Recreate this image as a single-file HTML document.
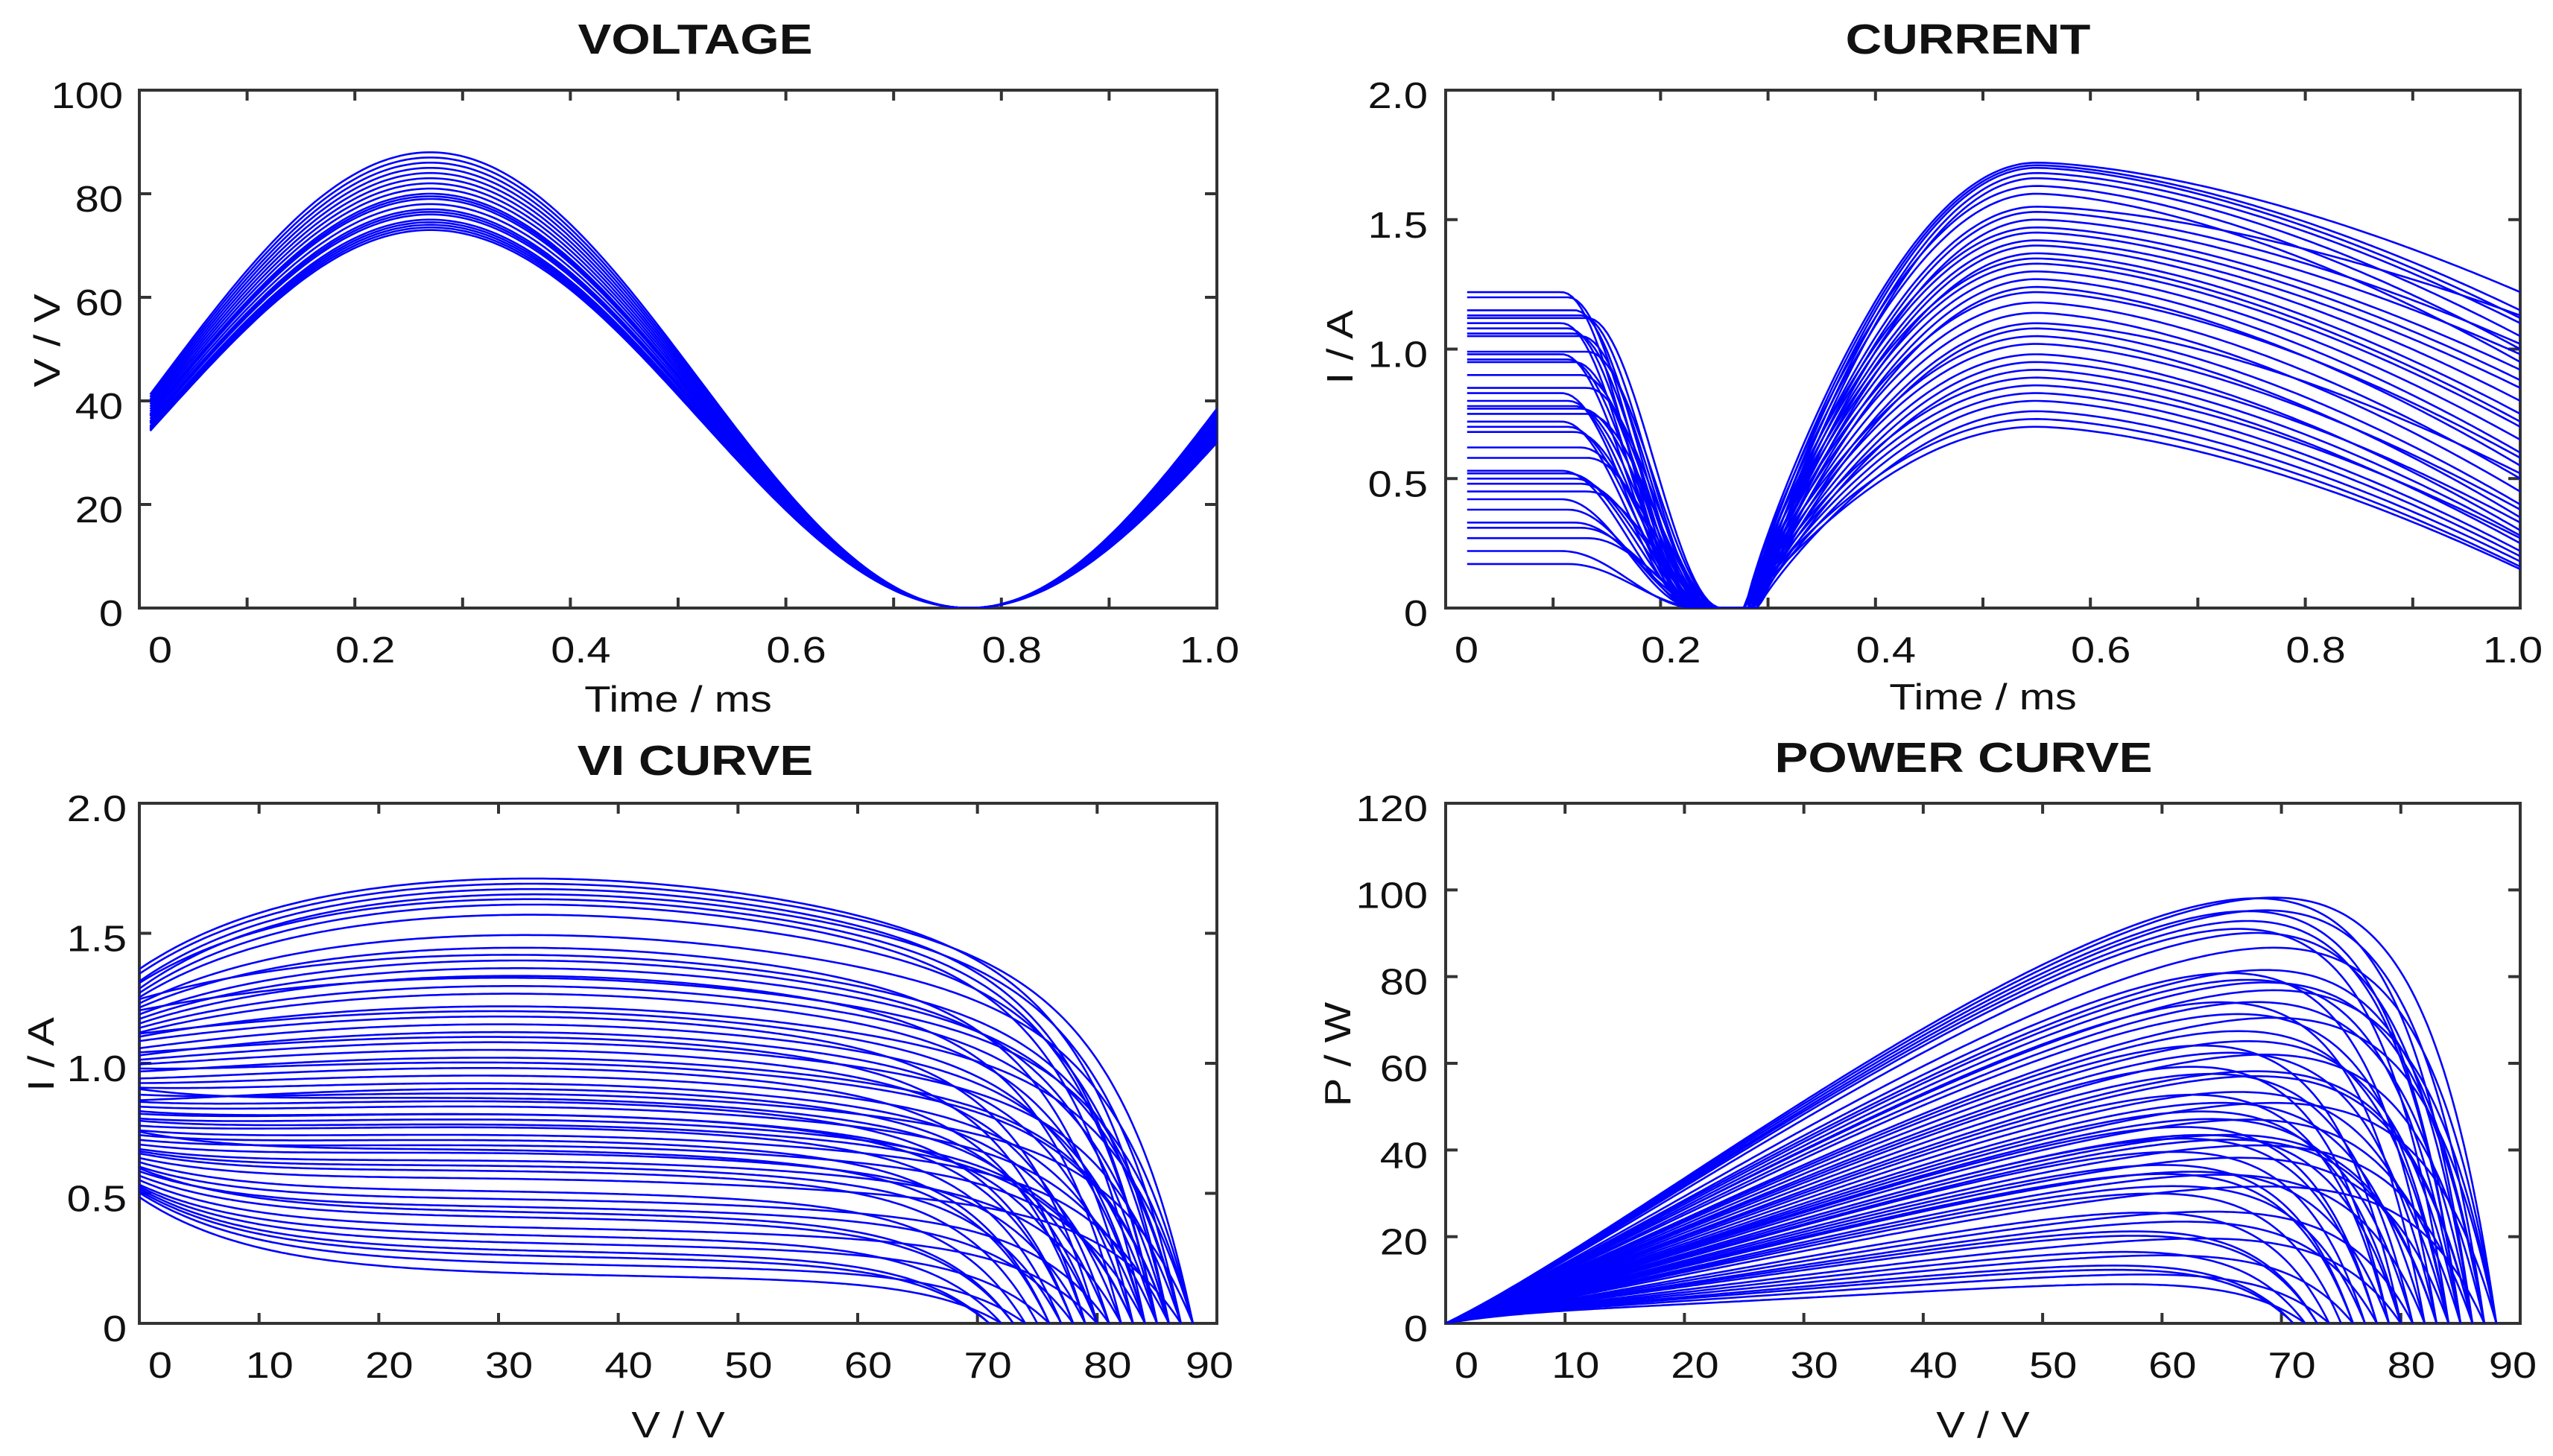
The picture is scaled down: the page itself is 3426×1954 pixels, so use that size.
<!DOCTYPE html>
<html><head><meta charset="utf-8"><style>
html,body{margin:0;padding:0;background:#fff;}
svg{display:block;}
</style></head><body>
<svg id="fig" width="3426" height="1954" viewBox="0 0 3426 1954" xmlns="http://www.w3.org/2000/svg"></svg>
<script>
// ---------- data ----------
const voltagePeaks = [88,87,86,85,84,83,82,81,80,79.5,79,78,77,76.5,76,75,74.5,74,73.5,73];
const curStart = [1.22,1.20,1.15,1.13,1.12,1.10,1.08,1.06,1.05,0.99,0.98,0.96,0.95,0.90,0.85,0.83,0.80,0.78,0.77,0.75,0.72,0.70,0.68,0.62,0.58,0.53,0.52,0.50,0.48,0.45,0.42,0.38,0.33,0.31,0.27,0.22,0.17];
const curPeak = [1.72,1.71,1.70,1.68,1.66,1.63,1.60,1.55,1.53,1.50,1.47,1.45,1.42,1.40,1.37,1.35,1.33,1.30,1.27,1.24,1.22,1.18,1.14,1.10,1.08,1.05,1.02,0.98,0.95,0.92,0.89,0.86,0.83,0.80,0.76,0.73,0.70];
const curEnd = [1.22,1.15,1.12,1.10,1.05,1.00,0.95,1.13,1.02,0.98,0.92,0.88,0.85,0.80,0.75,0.72,0.70,0.65,0.60,0.55,0.58,0.50,0.45,0.52,0.40,0.35,0.38,0.30,0.33,0.28,0.25,0.27,0.22,0.20,0.18,0.16,0.15];
const viStart = [1.50,1.48,1.45,1.42,1.40,1.38,1.35,1.33,1.30,1.28,1.26,1.24,1.22,1.20,1.18,1.15,1.12,1.10,1.08,1.05,1.02,1.00,0.98,0.95,0.92,0.90,0.88,0.85,0.82,0.80,0.78,0.76,0.74,0.72,0.70,0.68,0.66,0.64,0.62,0.60,0.58,0.56,0.55,0.54,0.52,0.50,1.36,1.21,1.06,0.93,0.84,0.71,1.44,1.13,0.97,0.79,0.63,0.53,1.31,0.87];
const viPlateau = [1.72,1.70,1.68,1.66,1.62,1.58,1.50,1.45,1.40,1.37,1.34,1.30,1.27,1.22,1.18,1.15,1.12,1.08,1.05,1.02,0.98,0.95,0.92,0.88,0.85,0.83,0.80,0.78,0.75,0.72,0.70,0.68,0.65,0.62,0.58,0.55,0.50,0.47,0.44,0.40,0.36,0.33,0.30,0.27,0.22,0.18,1.42,1.20,1.00,0.90,0.76,0.60,1.64,1.10,0.86,0.66,0.42,0.25,1.33,0.80];
const viVoc = [86,88,85,87,84,86,88,83,85,87,82,86,84,88,80,85,83,87,81,86,79,84,82,88,78,85,80,83,77,86,76,84,79,82,75,87,74,81,78,73,80,72,76,71,74,72,87,84,86,80,83,77,85,79,81,76,73,71,88,78];
const timeTicks = [0,0.2,0.4,0.6,0.8,1.0];
const timeTickLabels = ["0","0.2","0.4","0.6","0.8","1.0"];
const voltYTicks = [0,20,40,60,80,100];
const ampYTicks = [0,0.5,1.0,1.5,2.0];
const ampYLabels = ["0","0.5","1.0","1.5","2.0"];
const vTicks = [0,10,20,30,40,50,60,70,80,90];
const pTicks = [0,20,40,60,80,100,120];

// ---------- helpers ----------
const NS = "http://www.w3.org/2000/svg";
const svg = document.getElementById('fig');
const SX = 1.18;
function mk(tag, attrs, parent){ const e=document.createElementNS(NS,tag); for(const k in attrs) e.setAttribute(k,attrs[k]); (parent||svg).appendChild(e); return e; }
function txt(x,y,s,size,anchor,bold,rot,name,parent){
  const e = mk('text',{x:0,y:0,'font-family':'"Liberation Sans", Arial, sans-serif','font-size':size,'text-anchor':anchor,fill:'#111','font-weight':bold?'bold':'normal',transform:`translate(${x},${y}) ${rot?'rotate(-90) ':''}scale(${SX},1)`},parent);
  e.textContent = s;
  
  
  return e;
}
function axes(id, L,R,T,B, x0,x1,y0,y1, xt,xl,yt,yl, minorX, title,tx,ty, xlab,xly, ylab,ylx,yly, ylRight){
  const g = mk('g',{});
  
  
  const sx = v => L + (v-x0)/(x1-x0)*(R-L);
  const sy = v => B - (v-y0)/(y1-y0)*(B-T);
  const cp = mk('clipPath',{id:id+'-clip'},g); mk('rect',{x:L,y:T-4,width:R-L,height:B-T+4},cp);
  const frame = mk('rect',{x:L,y:T,width:R-L,height:B-T,fill:'none',stroke:'#333','stroke-width':4},g);
  
  
  minorX.forEach(v=>{
    const x=sx(v);
    const t1 = mk('line',{x1:x,y1:B,x2:x,y2:B-14,stroke:'#333','stroke-width':4},g);
    
    
    const t2 = mk('line',{x1:x,y1:T,x2:x,y2:T+14,stroke:'#333','stroke-width':4},g);
    
    
  });
  xt.forEach((v,i)=>{
    let x=sx(v); if(i===0) x+=28; else if(i===xt.length-1) x-=10; else x+=14;
    txt(x,B+73,xl[i],49,'middle',false,false,'x-tick-label',g);
  });
  yt.forEach((v,i)=>{
    const y=sy(v);
    const t1 = mk('line',{x1:L,y1:y,x2:L+16,y2:y,stroke:'#333','stroke-width':4},g);
    
    
    const t2 = mk('line',{x1:R,y1:y,x2:R-16,y2:y,stroke:'#333','stroke-width':4},g);
    
    
    txt(ylRight,y+24,yl[i],49,'end',false,false,'y-tick-label',g);
  });
  txt(tx,ty,title,57,'middle',true,false,'chart-title',g);
  txt((L+R)/2,xly,xlab,49,'middle',false,false,'x-axis-title',g);
  txt(ylx,yly,ylab,49,'middle',false,true,'y-axis-title',g);
  const plot = mk('g',{'clip-path':`url(#${id}-clip)`,fill:'none',stroke:'#0000ff','stroke-width':2.6,'stroke-linejoin':'round'},g);
  
  
  return {sx,sy,plot};
}
function poly(ax, pts, name){
  const d = pts.map(p=>ax.sx(p[0]).toFixed(1)+','+ax.sy(p[1]).toFixed(1)).join(' ');
  const e = mk('polyline',{points:d},ax.plot);
  
  
}
const range = (a,b,s)=>{const r=[];for(let v=a;v<=b+1e-9;v+=s)r.push(+v.toFixed(4));return r;};

// ---------- VOLTAGE ----------
const axV = axes('voltage',187,1633,121,816, 0,1,0,100, timeTicks,timeTickLabels,voltYTicks,voltYTicks.map(String), range(0.1,0.9,0.1),
  'VOLTAGE',933,72,'Time / ms',955,'V / V',80,457,165);
voltagePeaks.forEach((A,i)=>{
  const pts=[]; for(let k=0;k<=200;k++){const t=0.01+k*0.99/200; pts.push([t, A/2*(1+Math.cos(2*Math.PI*(t-0.27)))]);}
  poly(axV,pts,'voltage-curve');
});

// ---------- CURRENT ----------
const axC = axes('current',1940,3382,121,816, 0,1,0,2, timeTicks,timeTickLabels,ampYTicks,ampYLabels, range(0.1,0.9,0.1),
  'CURRENT',2641,72,'Time / ms',952,'I / A',1815,466,1916);
curStart.forEach((S,i)=>{
  const P=curPeak[i], E=curEnd[i]; const pts=[];
  const off = (i%5-2)*0.006;
  for(let k=0;k<=240;k++){
    const t=0.02+k*0.98/240; let v;
    const a=0.12+off, b=0.245+off, c=0.285+off*0.5;
    if(t<a) v=S;
    else if(t<b) v=S*(1+Math.cos(Math.PI*(t-a)/(b-a)))/2;
    else if(t<c) v=0;
    else if(t<0.55){ const u=(t-c)/(0.55-c); v=P*Math.pow(Math.sin(Math.PI/2*u),0.85); }
    else { const u=(t-0.55)/0.45; v=P+(E-P)*Math.pow(u,1.6); }
    pts.push([t,v]);
  }
  poly(axC,pts,'current-curve');
});

// ---------- VI & POWER ----------
const axVI = axes('vi-curve',187,1633,1078,1776, 0,90,0,2, vTicks,vTicks.map(String),ampYTicks,ampYLabels, range(10,80,10),
  'VI CURVE',933,1040,'V / V',1929,'I / A',72,1415,170);
const axP = axes('power-curve',1940,3382,1078,1776, 0,90,0,120, vTicks,vTicks.map(String),pTicks,pTicks.map(String), range(10,80,10),
  'POWER CURVE',2635,1036,'V / V',1929,'P / W',1812,1415,1916);
function viI(i,V){
  const I0=viStart[i], Ip=viPlateau[i], Voc=viVoc[i];
  const base = Ip*(1-0.08*Math.pow((V-30)/30,2)) + (I0-Ip)*Math.exp(-V/10);
  return Math.max(0, base*(1-Math.exp((V-Voc)/5.5)));
}
viStart.forEach((s,i)=>{
  const pv=[], pp=[];
  for(let k=0;k<=260;k++){ const V=k*viVoc[i]/260; const I=viI(i,V); pv.push([V,I]); pp.push([V,V*I]); }
  poly(axVI,pv,'vi-curve-line');
  poly(axP,pp,'power-curve-line');
});
</script>
</body></html>
